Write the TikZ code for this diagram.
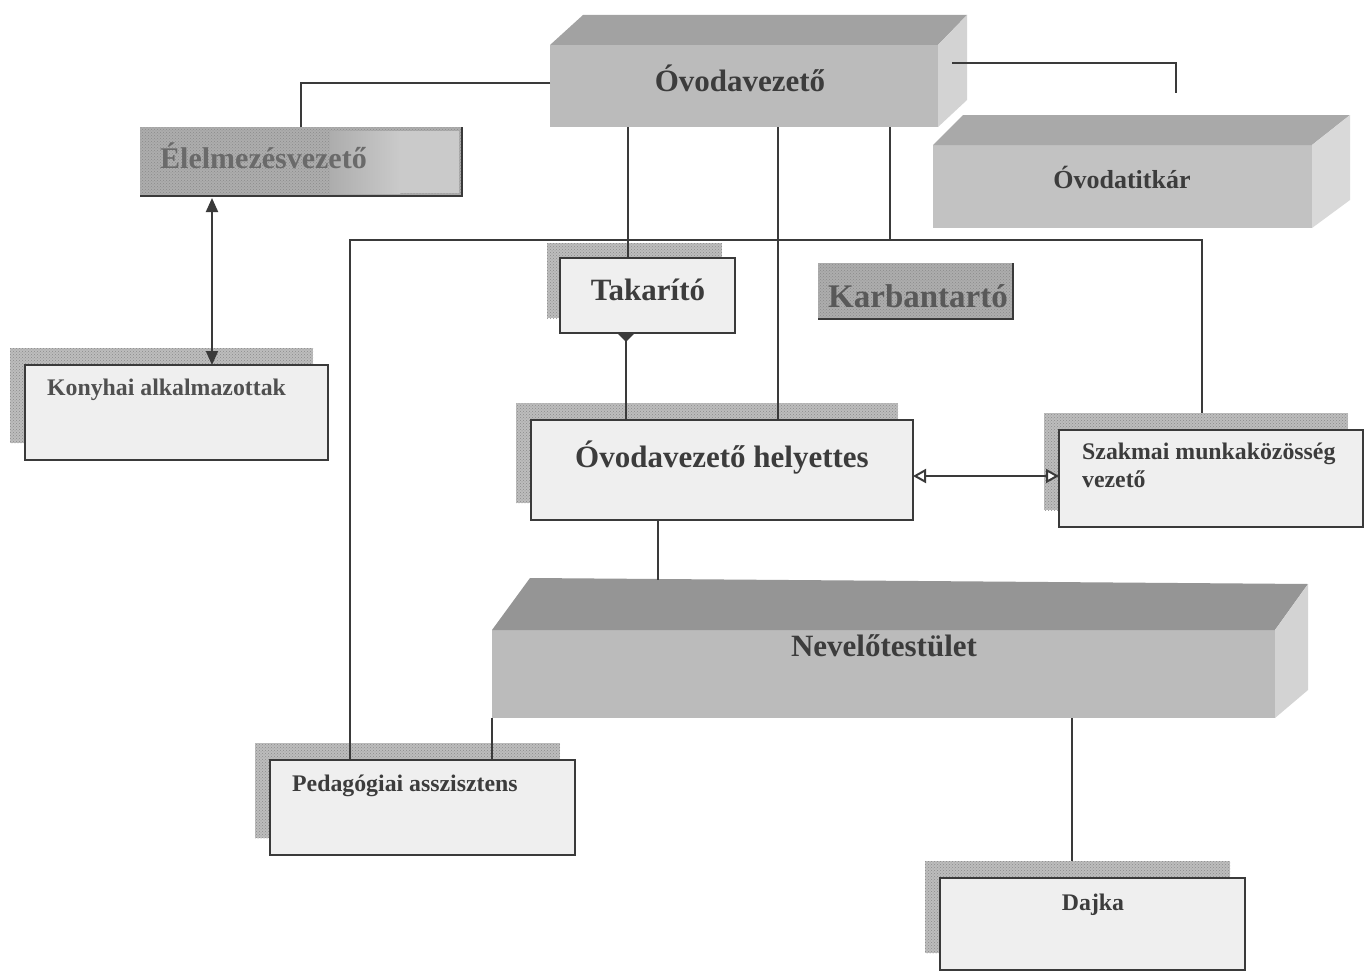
\documentclass[tikz,border=0pt]{standalone}
\usepackage{fontspec}
\setmainfont{Liberation Serif}
\usetikzlibrary{arrows.meta,patterns,calc}
\definecolor{ln}{HTML}{3A3A3A}
\definecolor{txt}{HTML}{3C3C3C}
\definecolor{txtlight}{HTML}{6A6A6A}
\definecolor{boxfill}{HTML}{EFEFEF}
\definecolor{shd}{HTML}{BDBDBD}
\definecolor{shddot}{HTML}{8A8A8A}
\definecolor{frontA}{HTML}{BBBBBB}
\definecolor{topA}{HTML}{A2A2A2}
\definecolor{sideA}{HTML}{D3D3D3}
\definecolor{frontB}{HTML}{C2C2C2}
\definecolor{topB}{HTML}{A9A9A9}
\definecolor{sideB}{HTML}{D9D9D9}
\definecolor{texbox}{HTML}{ADADAD}
\definecolor{texlight}{HTML}{CACACA}
\tikzset{
  solidtip/.tip={Triangle[width=12pt,length=14pt]},
  opentip/.tip={Triangle[width=14pt,length=13pt,fill=white]},
  tailtip/.tip={Triangle[reversed,width=17pt,length=9pt]}
}
\begin{document}
\begin{tikzpicture}[x=1pt,y=-1pt,
  face/.style={rectangle, inner sep=0pt, outer sep=0pt, draw=none},
  shadowbox/.style={rectangle, inner sep=0pt, outer sep=0pt, fill=shd,
     postaction={pattern=crosshatch dots, pattern color=shddot}},
  texturebox/.style={rectangle, inner sep=0pt, outer sep=0pt, fill=texbox,
     postaction={pattern=crosshatch dots, pattern color=shddot}},
  conn/.style={draw=ln, line width=2pt},
  big/.style={font=\fontsize{31}{36}\selectfont\bfseries, text=txt, inner sep=0pt},
  small/.style={font=\fontsize{23.8}{28}\selectfont\bfseries, text=txt, inner sep=0pt}
]
\useasboundingbox (0,0) rectangle (1366,974);
\fill[white] (0,0) rectangle (1366,974);

% ---------- 3D boxes ----------
% Ovodavezeto
\node[face, fill=frontA, minimum width=388pt, minimum height=82pt] (vez) at (744,86) {};
\fill[topA] (550,45) -- (583,15) -- (967,15) -- (938,45) -- cycle;
\fill[sideA] (938,45) -- (967,15) -- (967,100) -- (938,127) -- cycle;
% Ovodatitkar
\node[face, fill=frontB, minimum width=379pt, minimum height=83pt] (titk) at (1122.5,186.5) {};
\fill[topB] (933,145) -- (963,115) -- (1350,115) -- (1312,145) -- cycle;
\fill[sideB] (1312,145) -- (1350,115) -- (1350,200) -- (1312,228) -- cycle;
% Nevelotestulet
\node[face, fill=frontA, minimum width=783pt, minimum height=88pt] (nev) at (883.5,674) {};
\fill[topA!92!black] (492,630) -- (530,578) -- (1308,584) -- (1275,630) -- cycle;
\fill[sideA] (1275,630) -- (1308,584) -- (1308,690) -- (1275,718) -- cycle;

% ---------- textured flat boxes ----------
\node[texturebox, minimum width=322pt, minimum height=69pt] (elel) at (301,161.5) {};
\shade[left color=texbox, right color=texlight] (330,131) rectangle (400,193);
\fill[texlight] (400,131) rectangle (459,193);
\draw[ln, line width=2.5pt] (elel.south west) -- (elel.south east) -- (elel.north east);
\node[texturebox, minimum width=195pt, minimum height=56pt] (karb) at (915.5,291) {};
\draw[ln, line width=2.5pt] (karb.south west) -- (karb.south east) -- (karb.north east);

% ---------- shadows ----------
\node[shadowbox, minimum width=175pt, minimum height=75pt] (takS) at (634.5,280.5) {};
\node[shadowbox, minimum width=303pt, minimum height=95pt] (konyS) at (161.5,395.5) {};
\node[shadowbox, minimum width=382pt, minimum height=100pt] (helyS) at (707,453) {};
\node[shadowbox, minimum width=304pt, minimum height=97pt] (szakS) at (1196,461.5) {};
\node[shadowbox, minimum width=305pt, minimum height=95pt] (pedS) at (407.5,790.5) {};
\node[shadowbox, minimum width=305pt, minimum height=92pt] (dajS) at (1077.5,907) {};

% ---------- helper coordinates ----------
\coordinate (x212) at (212,0);
\coordinate (x626) at (626,0);
\coordinate (x628) at (628,0);
\coordinate (x658) at (658,0);
\coordinate (x778) at (778,0);
\coordinate (x890) at (890,0);
\coordinate (x1072) at (1072,0);
\coordinate (x1202) at (1202,0);
\coordinate (barL) at (350,240);
\coordinate (y476) at (0,476);
\coordinate (nevBack) at (0,580);
\coordinate (titkEnd) at (1176,93);

% ---------- front boxes (named) ----------
\node[face, minimum width=175pt, minimum height=75pt] (tak) at (647.5,295.5) {};
\node[face, minimum width=303pt, minimum height=95pt] (kony) at (176.5,412.5) {};
\node[face, minimum width=382pt, minimum height=100pt] (hely) at (722,470) {};
\node[face, minimum width=304pt, minimum height=97pt] (szak) at (1211,478.5) {};
\node[face, minimum width=305pt, minimum height=95pt] (ped) at (422.5,807.5) {};
\node[face, minimum width=305pt, minimum height=92pt] (daj) at (1092.5,924) {};

% ---------- connectors ----------
\draw[conn] ([yshift=3pt]vez.west) -| (elel.north);
\draw[conn] ([xshift=14pt,yshift=23pt]vez.east) -| (titkEnd);
\draw[conn] (vez.south -| x628) -- (tak.north -| x628);
\draw[conn] (vez.south -| x778) -- (hely.north -| x778);
\draw[conn] (vez.south -| x890) -- (x890 |- barL);
\draw[conn] (ped.north -| barL) -- (barL) -- (barL -| x1202) -- (szakS.north -| x1202);
\draw[conn] (hely.south -| x658) -- (x658 |- nevBack);
\draw[conn] (nev.south west) -- (ped.north -| nev.south west);
\draw[conn] (nev.south -| x1072) -- (dajS.north -| x1072);
\draw[conn] (tak.south -| x626) -- (hely.north -| x626);

% ---------- front boxes drawn ----------
\foreach \n in {tak,kony,hely,szak,ped,daj}{
  \draw[ln, line width=2pt, fill=boxfill] (\n.north west) rectangle (\n.south east);
}
% connectors with tips, on top of boxes
\draw[conn, tailtip-] (tak.south -| x626) -- ++(0,12);
\draw[conn, opentip-opentip] (hely.east |- y476) -- (szak.west |- y476);
\draw[conn, solidtip-solidtip] ([yshift=-2pt]elel.south -| x212) -- (kony.north -| x212);

% ---------- labels ----------
\node[big] (vezT) at (740,78) {Óvodavezető};
\node[font=\fontsize{26}{30}\selectfont\bfseries, text=txt, inner sep=0pt] (titkT) at (1122,177) {Óvodatitkár};
\node[font=\fontsize{30}{34}\selectfont\bfseries, text=txtlight, inner sep=0pt, anchor=west] (elelT) at (160,156) {Élelmezésvezető};
\node[font=\fontsize{33}{36}\selectfont\bfseries, text=txt!85!white, inner sep=0pt] (karbT) at (918,296) {Karbantartó};
\node[big] (takT) at (648,290) {Takarító};
\node[small, anchor=west, text=txt!90!white] (konyT) at (47,390) {Konyhai alkalmazottak};
\node[big] (helyT) at (722,458) {Óvodavezető helyettes};
\node[small, anchor=north west, align=left] (szakT) at (1082,443) {Szakmai munkaközösség\\vezető};
\node[big] (nevT) at (884,646) {Nevelőtestület};
\node[small, anchor=west] (pedT) at (292,786) {Pedagógiai asszisztens};
\node[small] (dajT) at (1093,905) {Dajka};
\end{tikzpicture}
\end{document}
